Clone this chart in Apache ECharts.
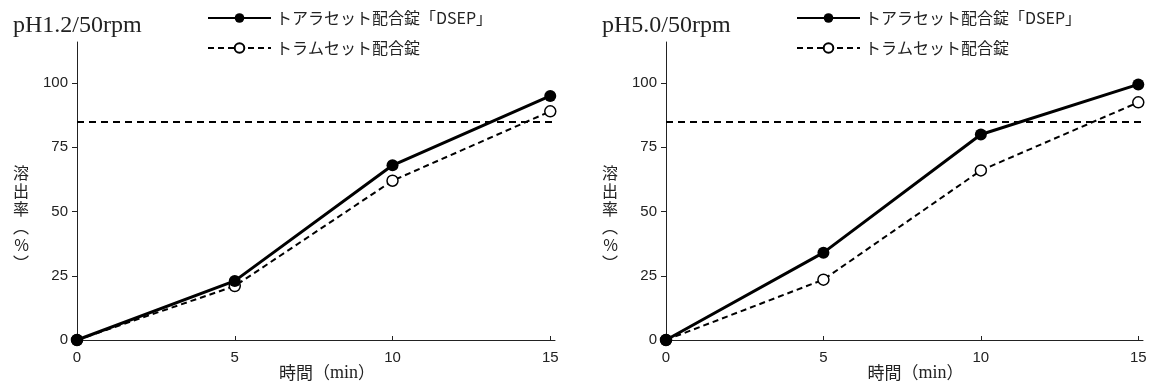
<!DOCTYPE html>
<html>
<head>
<meta charset="utf-8">
<script src="https://cdn.jsdelivr.net/npm/echarts@6/dist/echarts.min.js"></script>
<style>
  html, body { margin: 0; padding: 0; background: #fff; }
  #chart { width: 1152px; height: 385px; }
</style>
</head>
<body>
<div id="chart"></div>
<script>
// 溶出試験データ
const times = [0, 5, 10, 15];
const dsepPh12 = [0, 23, 68, 95];
const tramsetPh12 = [0, 21, 62, 89];
const dsepPh50 = [0, 34, 80, 99.5];
const tramsetPh50 = [0, 23.5, 66, 92.5];
const xTicks = [0, 5, 10, 15];
const yTicks = [0, 25, 50, 75, 100];
const limit = 85;
const titles = ['pH1.2/50rpm', 'pH5.0/50rpm'];
const nameDsep = 'トアラセット配合錠「DSEP」';
const nameTram = 'トラムセット配合錠';

let myChart = echarts.init(document.getElementById('chart'));

const pairs = (xs, ys) => xs.map((x, i) => [x, ys[i]]);
const gothic = '"Noto Sans CJK JP", sans-serif';
const narrow = '"Liberation Sans Narrow", sans-serif';
const serif = '"Liberation Serif", serif';

function xAxisOf(idx) {
  return {
    type: 'value', gridIndex: idx, min: 0, max: 15.15,
    name: '{s|}時間（{m|min}）',
    nameLocation: 'middle', nameGap: 24, nameMoveOverlap: false,
    nameTextStyle: {
      fontFamily: gothic, fontSize: 17, color: '#222',
      rich: {
        s: { width: 22 },
        m: { fontFamily: serif, fontSize: 18, color: '#222' }
      }
    },
    axisLine: { lineStyle: { color: '#222', width: 1 } },
    axisTick: { inside: true, length: 4, customValues: xTicks, lineStyle: { color: '#222' } },
    axisLabel: { customValues: xTicks, margin: 10, fontFamily: narrow, fontSize: 15, color: '#222' },
    splitLine: { show: false }
  };
}

function yAxisOf(idx) {
  return {
    type: 'value', gridIndex: idx, min: 0, max: 116,
    name: '\n\n\n溶\n出\n率\n︵\n%\n︶',
    nameLocation: 'middle', nameGap: 48, nameRotate: 0,
    nameTextStyle: { fontFamily: gothic, fontSize: 16, lineHeight: 18, color: '#222' },
    axisLine: { show: true, lineStyle: { color: '#222', width: 1 } },
    axisTick: { show: true, length: 5, customValues: yTicks, lineStyle: { color: '#222' } },
    axisLabel: { customValues: yTicks, margin: 9, fontFamily: narrow, fontSize: 15, color: '#222' },
    splitLine: { show: false }
  };
}

function seriesOf(idx, dsep, tram) {
  return [
    {
      name: nameDsep, type: 'line', xAxisIndex: idx, yAxisIndex: idx,
      data: pairs(times, dsep), clip: false,
      symbol: 'circle', symbolSize: 12,
      itemStyle: { color: '#000' },
      lineStyle: { color: '#000', width: 3 },
      z: 3,
      markLine: {
        silent: true, symbol: 'none', label: { show: false },
        lineStyle: { color: '#000', width: 2, type: [7, 5] },
        data: [{ yAxis: limit }]
      }
    },
    {
      name: nameTram, type: 'line', xAxisIndex: idx, yAxisIndex: idx,
      data: pairs(times, tram), clip: false,
      symbol: 'circle', symbolSize: 11,
      itemStyle: { color: '#fff', borderColor: '#000', borderWidth: 1.5 },
      lineStyle: { color: '#000', width: 2, type: [6, 4] },
      z: 2
    }
  ];
}

function legendOf(left) {
  return {
    left: left, top: 5, orient: 'vertical', itemGap: 14,
    itemWidth: 63, itemHeight: 12,
    textStyle: { fontFamily: gothic, fontSize: 16, color: '#222' },
    data: [nameDsep, nameTram]
  };
}

function titleOf(text, left) {
  return { text: text, left: left, top: 9, textStyle: { fontFamily: serif, fontSize: 24, fontWeight: 'normal', color: '#222' } };
}

myChart.setOption({
  animation: false,
  title: [titleOf(titles[0], 8), titleOf(titles[1], 597)],
  legend: [legendOf(202), legendOf(791)],
  grid: [
    { left: 77, top: 42, width: 478, height: 298, outerBoundsMode: 'none' },
    { left: 666, top: 42, width: 477, height: 298, outerBoundsMode: 'none' }
  ],
  xAxis: [xAxisOf(0), xAxisOf(1)],
  yAxis: [yAxisOf(0), yAxisOf(1)],
  series: [].concat(seriesOf(0, dsepPh12, tramsetPh12), seriesOf(1, dsepPh50, tramsetPh50))
});
</script>
</body>
</html>
